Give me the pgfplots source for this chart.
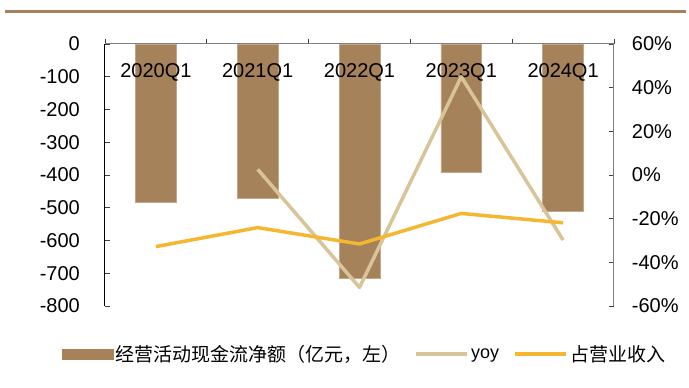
\documentclass[border=0pt]{standalone}
\usepackage{pgfplots}
\pgfplotsset{compat=1.18}
\usepackage{fontspec}
\setmainfont{Liberation Sans}
\newfontfamily\cjk{Noto Sans CJK SC}
\definecolor{barc}{RGB}{166,130,91}
\definecolor{yoyc}{RGB}{216,196,152}
\definecolor{revc}{RGB}{245,183,49}
\definecolor{rulec}{RGB}{166,127,92}
\begin{document}
\begin{tikzpicture}
\pgfplotsset{
  common/.style={
    scale only axis, width=509pt, height=262pt,
    at={(0pt,0pt)}, anchor=south west,
    xmin=-0.5, xmax=4.5,
    /pgf/number format/assume math mode=true,
    tick label style={font=\fontsize{20}{24}\selectfont, inner sep=0pt},
    major tick length=5pt,
    tick style={black!75, line width=0.8pt},
  }
}
\begin{axis}[common,
  axis on top,
  ymin=-800, ymax=0,
  axis x line=top, axis y line=left,
  axis line style={-},
  x axis line style={draw=gray, line width=1pt},
  y axis line style={draw=black, line width=1pt},
  xtick={-0.5,0.5,...,4.5}, xticklabels={,,,,,},
  extra x ticks={0,1,2,3,4},
  extra x tick labels={2020Q1,2021Q1,2022Q1,2023Q1,2024Q1},
  extra x tick style={major tick length=0pt, xticklabel style={anchor=base, yshift=-33.4pt}},
  xtick align=outside, ytick align=inside,
  ytick={-800,-700,...,0},
  yticklabel style={anchor=east, xshift=-25pt},
]
\addplot[ybar, bar width=40.7pt, fill=barc, draw=barc!70!white, line width=0.5pt] coordinates {(0,-483) (1,-471) (2,-715) (3,-393) (4,-512)};
\end{axis}
\begin{axis}[common,
  ymin=-60, ymax=60,
  axis x line=none, axis y line=right,
  axis line style={-, draw=gray, line width=1pt},
  ytick={-60,-40,...,60},
  yticklabel={\pgfmathprintnumber{\tick}\%},
  yticklabel style={anchor=west, xshift=17.7pt},
  ytick align=inside,
  legend columns=3,
  legend style={at={(0.5,0)}, anchor=center, xshift=5pt, yshift=-48pt, draw=none, fill=none,
    font=\fontsize{18}{22}\selectfont,
    /tikz/every even column/.append style={column sep=12pt}},
]
\addlegendimage{legend image code/.code={\fill[barc] (0pt,-5pt) rectangle (51pt,5pt);}}
\addlegendentry{\cjk\fontsize{19}{22}\selectfont 经营活动现金流净额（亿元，左）}
\addplot[yoyc, line width=3.5pt, line join=round,
  legend image code/.code={\draw[yoyc, line width=4pt] (0pt,0pt) -- (51pt,0pt);}]
  coordinates {(1,2.6) (2,-51.5) (3,45) (4,-29.8)};
\addlegendentry{yoy}
\addplot[revc, line width=3.5pt, line join=round,
  legend image code/.code={\draw[revc, line width=4pt] (0pt,0pt) -- (51pt,0pt);}]
  coordinates {(0,-32.8) (1,-24.1) (2,-31.6) (3,-17.6) (4,-21.9)};
\addlegendentry{\cjk\fontsize{19}{22}\selectfont 占营业收入}
\end{axis}
\pgfresetboundingbox
\path[use as bounding box] (-105pt,-82pt) rectangle (584pt,306pt);
\draw[rulec, line width=2.8pt] (-100pt,294.7pt) -- (581pt,294.7pt);
\end{tikzpicture}
\end{document}
